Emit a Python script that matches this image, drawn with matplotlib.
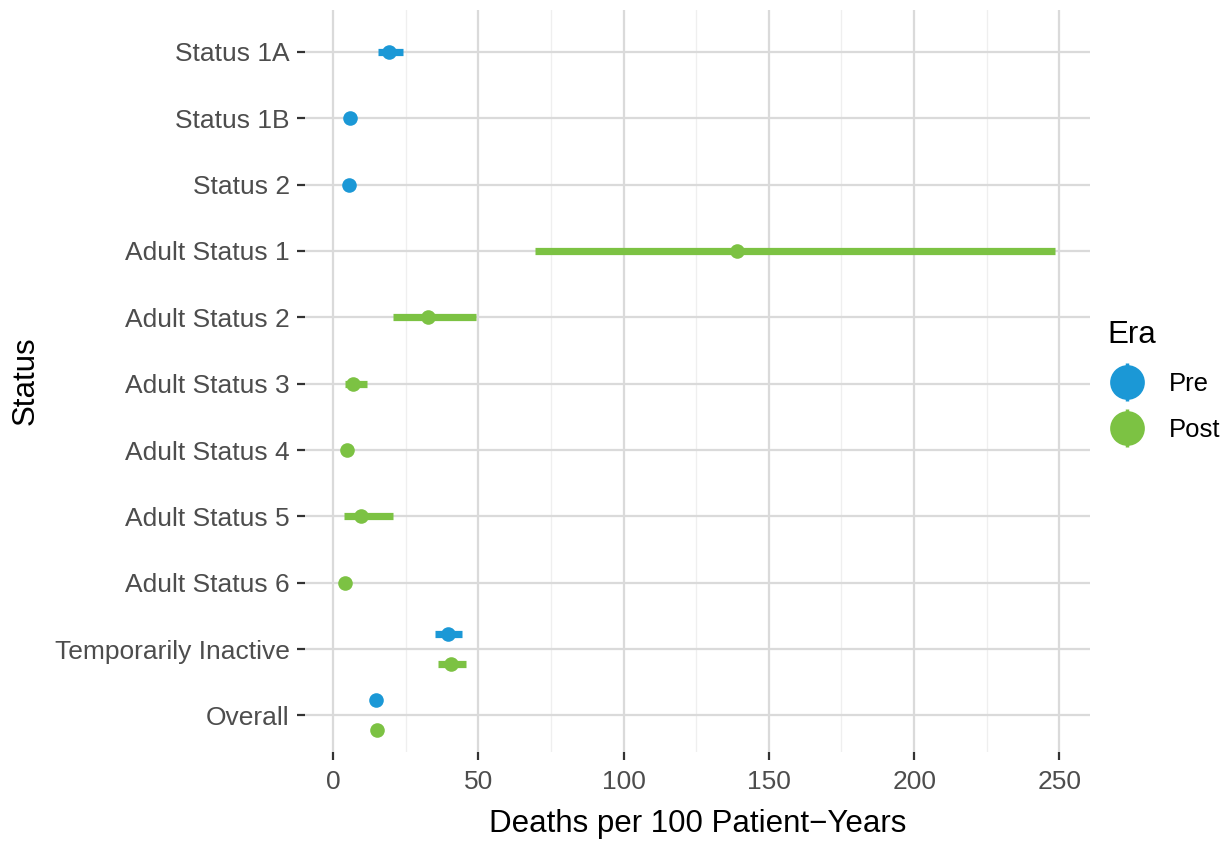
import matplotlib.pyplot as plt
from matplotlib.lines import Line2D
from matplotlib.legend_handler import HandlerTuple

plt.rcParams['font.family'] = ['Liberation Sans', 'DejaVu Sans']

# Status levels, top to bottom
statuses = ["Status 1A", "Status 1B", "Status 2", "Adult Status 1", "Adult Status 2",
            "Adult Status 3", "Adult Status 4", "Adult Status 5", "Adult Status 6",
            "Temporarily Inactive", "Overall"]

# Pre era: rate and 95% interval
pre_status = ["Status 1A", "Status 1B", "Status 2", "Temporarily Inactive", "Overall"]
pre_rate = [19.2, 6.0, 5.4, 39.5, 14.8]
pre_lo = [15.4, 4.8, 4.5, 35.2, 13.9]
pre_hi = [24.1, 7.4, 6.5, 44.3, 15.8]

# Post era: rate and 95% interval
post_status = ["Adult Status 1", "Adult Status 2", "Adult Status 3", "Adult Status 4",
               "Adult Status 5", "Adult Status 6", "Temporarily Inactive", "Overall"]
post_rate = [138.9, 32.6, 6.8, 4.9, 9.5, 4.0, 40.8, 15.1]
post_lo = [69.5, 20.5, 4.0, 3.6, 3.8, 2.9, 36.3, 13.9]
post_hi = [248.4, 49.2, 11.6, 6.6, 20.5, 5.5, 45.7, 16.4]

eras = ["Pre", "Post"]
colors = {"Pre": "#1b98d6", "Post": "#7cc243"}

fig = plt.figure(figsize=(12.26, 8.42), dpi=100)
ax = fig.add_axes([0.2488, 0.107, 0.64, 0.881])

ypos = {s: len(statuses) - i for i, s in enumerate(statuses)}
both = set(pre_status) & set(post_status)

def draw(era, names, rate, lo, hi, shift):
    col = colors[era]
    for s, r, l, h in zip(names, rate, lo, hi):
        y = ypos[s] + (shift if s in both else 0)
        ax.plot([l, h], [y, y], color=col, lw=5.2, solid_capstyle='butt', zorder=3)
        ax.plot(r, y, 'o', color=col, ms=10.5, mec='none', zorder=4)

draw("Pre", pre_status, pre_rate, pre_lo, pre_hi, 0.225)
draw("Post", post_status, post_rate, post_lo, post_hi, -0.225)

ax.set_xlim(-9.6, 260.4)
ax.set_ylim(0.45, 11.63)
ax.set_xticks([0, 50, 100, 150, 200, 250])
ax.set_xticks([25, 75, 125, 175, 225], minor=True)
ax.set_yticks([ypos[s] for s in statuses])
ax.set_yticklabels(statuses)

ax.grid(which='major', color='#dadada', lw=1.6)
ax.grid(which='minor', axis='x', color='#efefef', lw=0.9)
ax.set_axisbelow(True)
for sp in ax.spines.values():
    sp.set_visible(False)
ax.tick_params(which='major', length=6, width=1.6, color='#333333',
               labelsize=19, labelcolor='#4d4d4d')
ax.tick_params(axis='y', pad=5)
ax.tick_params(axis='x', pad=7)
ax.tick_params(which='minor', length=0)

ax.set_xlabel("Deaths per 100 Patient\u2212Years", fontsize=22.5, labelpad=11)
ax.set_ylabel("Status", fontsize=22.5, labelpad=10)

handles = []
for era in eras:
    bar = Line2D([], [], ls='none', marker='|', ms=28, mew=2.5, color=colors[era])
    dot = Line2D([], [], ls='none', marker='o', ms=25, mec='none', color=colors[era])
    handles.append((bar, dot))
leg = fig.legend(handles, eras, title="Era", loc='upper left',
                 bbox_to_anchor=(0.884, 0.647), frameon=False, fontsize=18.5,
                 title_fontsize=22.5, handler_map={tuple: HandlerTuple(ndivide=1, pad=0)},
                 handlelength=1.6, handletextpad=0.8, labelspacing=0.85)
leg._legend_box.align = "left"

fig.savefig("out.png", dpi=100)
